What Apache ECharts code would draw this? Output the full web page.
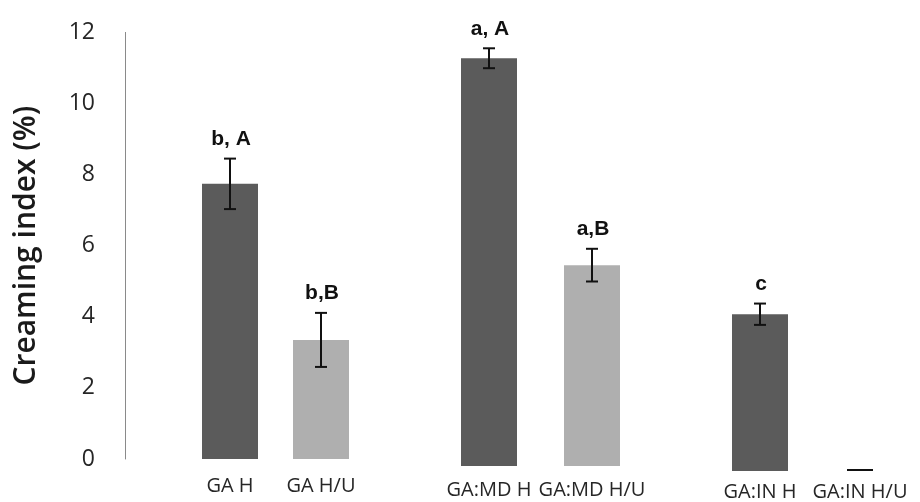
<!DOCTYPE html>
<html>
<head>
<meta charset="utf-8">
<script src="https://cdn.jsdelivr.net/npm/echarts@6/dist/echarts.min.js"></script>
<style>
  html, body { margin: 0; padding: 0; background: #ffffff; }
  #chart { width: 920px; height: 502px; }
</style>
</head>
<body>
<div id="chart"></div>
<script>
// Creaming index per sample, grouped in three pairs (H and H/U)
const categories = ['GA H', 'GA H/U', 'GA:MD H', 'GA:MD H/U', 'GA:IN H', 'GA:IN H/U'];
const creamingIndex = [7.74, 3.35, 11.47, 5.65, 4.41, 0];
const stdError = [0.71, 0.76, 0.28, 0.46, 0.30, 0];
const groupLetters = ['b, A', 'b,B', 'a, A', 'a,B', 'c', ''];
const yTicks = [0, 2, 4, 6, 8, 10, 12];

const DARK = '#5b5b5b';
const LIGHT = '#afafaf';
const UNIT = 35.55;            // pixels per y unit
const PLOT_H = 12 * UNIT;
const AXIS_X = 125;            // x position of the value axis line

// each pair of bars sits in its own grid; baselines step slightly down to the right
const groupLayout = [
  { left: 184.5, width: 182, base: 459, labelMargin: 17 },
  { left: 437.5, width: 206, base: 466, labelMargin: 14 },
  { left: 710,   width: 200, base: 471, labelMargin: 11 }
];

const grids = [], xAxes = [], yAxes = [], series = [];

groupLayout.forEach((g, gi) => {
  grids.push({ left: g.left, width: g.width, top: g.base - PLOT_H, height: PLOT_H });
  xAxes.push({
    type: 'category',
    gridIndex: gi,
    data: categories.slice(gi * 2, gi * 2 + 2),
    axisLine: { show: false },
    axisTick: { show: false },
    axisLabel: { interval: 0, hideOverlap: false, margin: g.labelMargin, fontFamily: 'Open Sans', fontSize: 20, color: '#262626' }
  });
  yAxes.push({
    type: 'value',
    gridIndex: gi,
    min: 0, max: 12, interval: 2,
    show: gi === 0,
    offset: gi === 0 ? g.left - AXIS_X : 0,
    name: gi === 0 ? 'Creaming index (%)' : '',
    nameLocation: 'middle',
    nameRotate: 90,
    nameGap: 84,
    nameTextStyle: { fontFamily: 'Open Sans', fontWeight: 600, fontSize: 30, color: '#1a1a1a' },
    axisLine: { show: gi === 0, lineStyle: { color: '#8a8a8a', width: 1 } },
    axisTick: { show: false },
    splitLine: { show: false },
    axisLabel: {
      margin: 30, fontFamily: 'Open Sans', fontSize: 23, color: '#262626',
      formatter: v => (yTicks.indexOf(v) >= 0 ? String(v) : '')
    }
  });

  const idx = [gi * 2, gi * 2 + 1];
  series.push({
    type: 'bar',
    xAxisIndex: gi, yAxisIndex: gi,
    barWidth: 56,
    data: idx.map((k, j) => ({ value: creamingIndex[k], itemStyle: { color: j === 0 ? DARK : LIGHT } })),
    silent: true,
    animation: false
  });
  series.push({
    type: 'custom',
    xAxisIndex: gi, yAxisIndex: gi,
    data: idx.map((k, j) => [j, creamingIndex[k], stdError[k], k]),
    animation: false,
    silent: true,
    z: 5,
    renderItem: function (params, api) {
      const x = api.value(0);
      const v = api.value(1);
      const e = api.value(2);
      const k = api.value(3);
      const top = api.coord([x, v + e]);
      const bot = api.coord([x, v - e]);
      const lineStyle = { stroke: '#111', lineWidth: 2 };
      const children = [];
      if (e > 0) {
        const cap = 6;
        children.push(
          { type: 'line', shape: { x1: top[0], y1: top[1], x2: bot[0], y2: bot[1] }, style: lineStyle },
          { type: 'line', shape: { x1: top[0] - cap, y1: top[1], x2: top[0] + cap, y2: top[1] }, style: lineStyle },
          { type: 'line', shape: { x1: bot[0] - cap, y1: bot[1], x2: bot[0] + cap, y2: bot[1] }, style: lineStyle }
        );
      } else {
        // a zero value is marked with a short dash on the baseline
        children.push({ type: 'line', shape: { x1: top[0] - 13, y1: top[1] - 1, x2: top[0] + 13, y2: top[1] - 1 }, style: lineStyle });
      }
      const letter = groupLetters[k];
      if (letter) {
        children.push({
          type: 'text',
          style: {
            text: letter, x: top[0] + 1, y: top[1] - 9,
            align: 'center', verticalAlign: 'bottom',
            fontFamily: 'Liberation Sans', fontWeight: 'bold', fontSize: 21, fill: '#111'
          }
        });
      }
      return { type: 'group', children: children };
    }
  });
});

const chart = echarts.init(document.getElementById('chart'), null, { renderer: 'canvas' });
chart.setOption({
  backgroundColor: '#ffffff',
  animation: false,
  grid: grids,
  xAxis: xAxes,
  yAxis: yAxes,
  series: series
});
</script>
</body>
</html>
